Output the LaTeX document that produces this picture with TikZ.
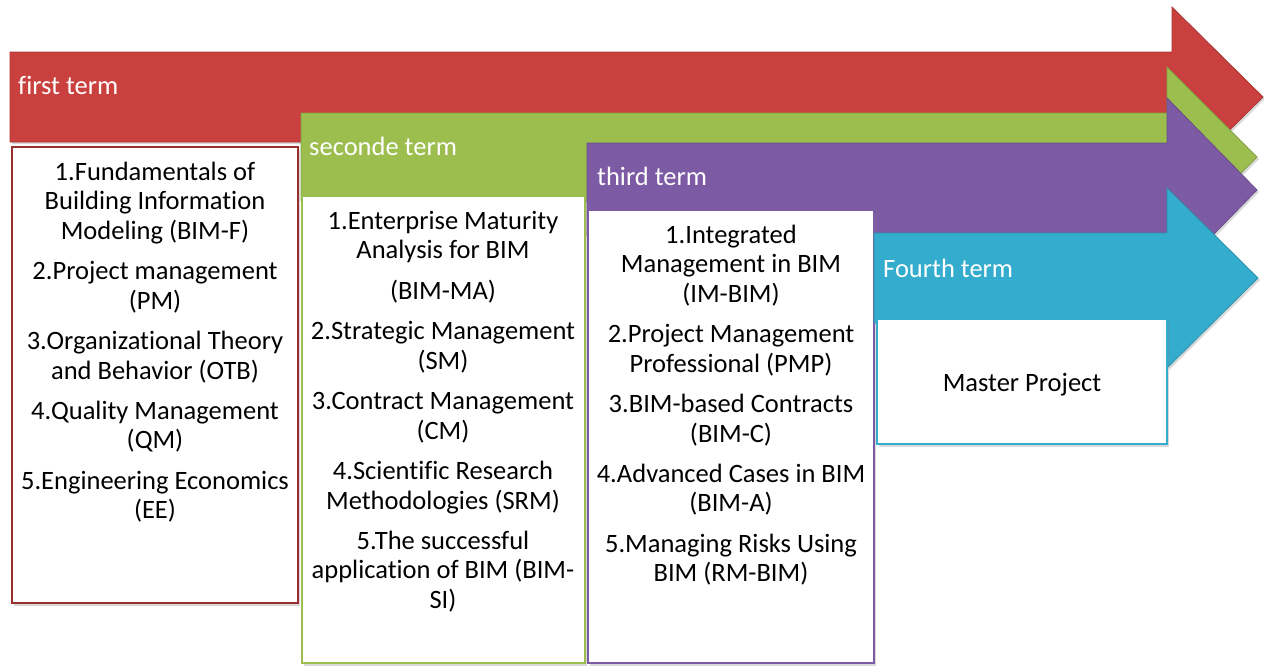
\documentclass[tikz,border=0pt]{standalone}
\usepackage{fontspec}
\setmainfont{Carlito}[Ligatures=NoCommon]
\usetikzlibrary{shadows}
\definecolor{termred}{RGB}{201,64,62}
\definecolor{termgreen}{RGB}{155,190,78}
\definecolor{termpurple}{RGB}{124,90,164}
\definecolor{termcyan}{RGB}{52,172,206}
\newcommand\termfont{\fontsize{26.5}{29.3}\selectfont}
\newcommand\gap{\\[11.3pt]}

\begin{document}
\begin{tikzpicture}[x=1pt,y=-1pt,
  termarrow/.style={fill=#1,draw=#1!85!black,line width=.8pt,drop shadow={opacity=.3,shadow xshift=2pt,shadow yshift=-2pt}},
  termbox/.style={draw=#1,fill=white,line width=1.5pt,drop shadow={opacity=.3,shadow xshift=2pt,shadow yshift=-3pt}},
  termname/.style={anchor=base west,inner sep=0pt,text=white,font=\termfont},
  courses/.style={anchor=north,inner sep=0pt,align=center,font=\termfont}]
  \useasboundingbox (0,0) rectangle (1264,665);

  % first term
  \draw[termarrow=termred] (10,52) -- (1172,52) -- (1172,7) -- (1263,97) -- (1172,187) -- (1172,142) -- (10,142) -- cycle;
  \node[termname] (first) at (18,94) {first term};
  \draw[termbox=termred!75!black] (12,147) rectangle (298,603);
  \node[courses] (firstlist) at (155,162) {1.Fundamentals of\\Building Information\\Modeling (BIM-F)\gap
    2.Project management\\(PM)\gap
    3.Organizational Theory\\and Behavior (OTB)\gap
    4.Quality Management\\(QM)\gap
    5.Engineering Economics\\(EE)};

  % seconde term
  \draw[termarrow=termgreen] (301,113) -- (1167,113) -- (1167,67) -- (1257,157) -- (1167,247) -- (1167,201) -- (301,201) -- cycle;
  \node[termname] (second) at (309,155) {seconde term};
  \draw[termbox=termgreen] (302,196) rectangle (585,663);
  \node[courses] (secondlist) at (443,211) {1.Enterprise Maturity\\Analysis for BIM\gap
    (BIM-MA)\gap
    2.Strategic Management\\(SM)\gap
    3.Contract Management\\(CM)\gap
    4.Scientific Research\\Methodologies (SRM)\gap
    5.The successful\\application of BIM (BIM-\\SI)};

  % third term
  \draw[termarrow=termpurple] (587,143) -- (1167,143) -- (1167,98) -- (1257,190) -- (1167,282) -- (1167,236) -- (587,236) -- cycle;
  \node[termname] (third) at (597,185) {third term};
  \draw[termbox=termpurple] (588,210) rectangle (874,663);
  \node[courses] (thirdlist) at (731,225) {1.Integrated\\Management in BIM\\(IM-BIM)\gap
    2.Project Management\\Professional (PMP)\gap
    3.BIM-based Contracts\\(BIM-C)\gap
    4.Advanced Cases in BIM\\(BIM-A)\gap
    5.Managing Risks Using\\BIM (RM-BIM)};

  % fourth term
  \draw[termarrow=termcyan] (874,233) -- (1167,233) -- (1167,188) -- (1258,278) -- (1167,368) -- (1167,323) -- (874,323) -- cycle;
  \node[termname] (fourth) at (883,277) {Fourth term};
  \draw[termbox=termcyan] (877,319) rectangle (1167,444);
  \node[courses] (fourthlist) at (1022,373) {Master Project};
\end{tikzpicture}
\end{document}
